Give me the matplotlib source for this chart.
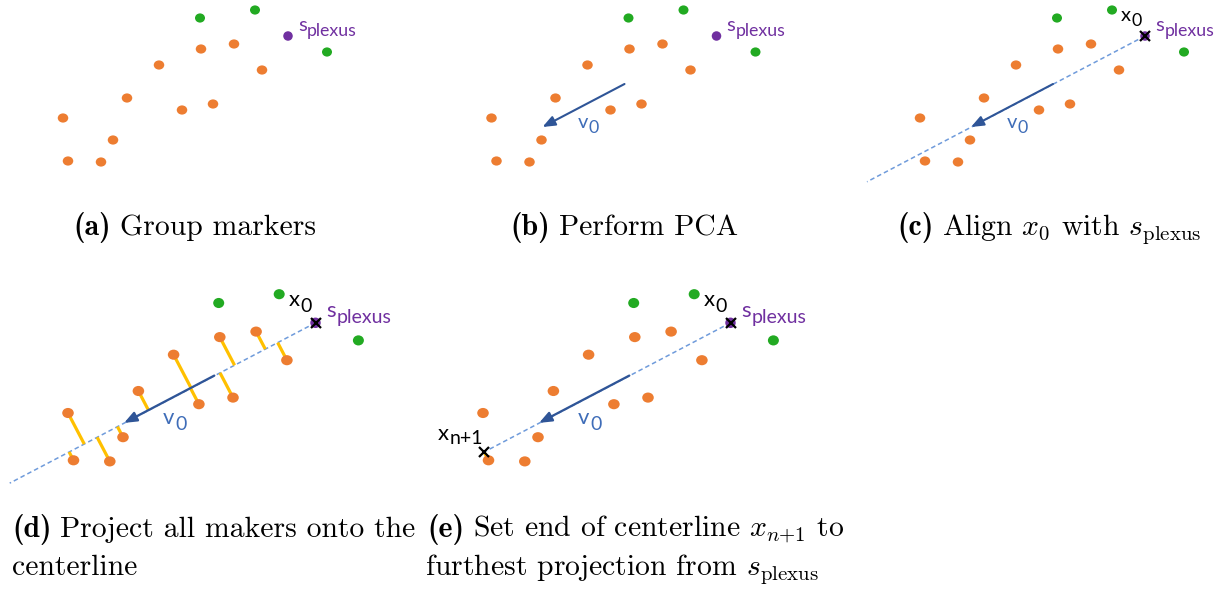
import numpy as np
import matplotlib
matplotlib.use("Agg")
import matplotlib.pyplot as plt
from matplotlib.patches import Ellipse, FancyArrowPatch

plt.rcParams['mathtext.fontset'] = 'cm'

# ---- data (panel-local pixel coordinates) ----
orange_x = [63, 68, 101, 113, 127, 159, 182, 201, 213, 234, 262]
orange_y = [118, 161, 162, 140, 98, 65, 110, 49, 104, 44, 70]
green_x = [200, 255, 327]
green_y = [18, 10, 52]
plexus_xy = (288, 36)
v0_start = (196, 84)
v0_end = (114, 127)
centerline_end_x = 10

caption_tags = ["(a)", "(b)", "(c)", "(d)", "(e)"]
captions = [
    ["Group markers"],
    ["Perform PCA"],
    [r"Align $x_0$ with $s_{\mathrm{plexus}}$"],
    ["Project all makers onto the", "centerline"],
    [r"Set end of centerline $x_{n{+}1}$ to",
     r"furthest projection from $s_{\mathrm{plexus}}$"],
]

# ---- layout / style ----
W, H = 1220, 590
ORANGE = '#ED7D31'
GREEN = '#22AA22'
PURPLE = '#7030A0'
YELLOW = '#FFC000'
ARROW = '#2F5597'
DASH = '#6F9BDB'
VLAB = '#3F6DB8'
SANS = 'Lato'
CAP_SIZE = 21.4

panels = {  # offset x, offset y, scale
    'a': (0.0, 0.0, 1.0),
    'b': (428.5, 0.0, 1.0),
    'c': (857.0, 0.0, 1.0),
    'd': (-1.3, 283.2, 1.1),
    'e': (413.7, 283.2, 1.1),
}
caption_pos = {
    'a': [(73, 235)],
    'b': [(510, 235)],
    'c': [(897, 235)],
    'd': [(12, 537), (12, 575)],
    'e': [(427, 537), (425, 575)],
}

fig = plt.figure(figsize=(W / 100, H / 100), dpi=100)
ax = fig.add_axes([0, 0, 1, 1])
ax.set_xlim(0, W)
ax.set_ylim(H, 0)
ax.axis('off')
renderer = fig.canvas.get_renderer()

ox_arr = np.array(orange_x, float)
oy_arr = np.array(orange_y, float)
pl = np.array(plexus_xy, float)
vdir = np.array(v0_end, float) - np.array(v0_start, float)
u = vdir / np.linalg.norm(vdir)
t_end = (pl[0] - centerline_end_x) / -u[0]
proj_t = (ox_arr - pl[0]) * u[0] + (oy_arr - pl[1]) * u[1]


def T(p, key):
    ox, oy, s = panels[key]
    return ox + s * p[0], oy + s * p[1]


def sublabel(x, y, base, sub, color, size, dy):
    t = ax.text(x, y, base, fontsize=size, color=color, family=SANS,
                va='baseline', ha='left', zorder=10)
    w = t.get_window_extent(renderer).width
    ax.text(x + w + 0.5, y + dy, sub, fontsize=size * 0.88, color=color,
            family=SANS, va='baseline', ha='left', zorder=10)


for key in 'abcde':
    s = panels[key][2]
    # centerline (dashed)
    if key in 'cde':
        tt = proj_t.max() if key == 'e' else t_end
        p0 = T(pl, key)
        p1 = T(pl + tt * u, key)
        ax.plot([p0[0], p1[0]], [p0[1], p1[1]], color=DASH, lw=1.1,
                dashes=(3, 2), zorder=2)
    # projections
    if key in 'de':
        idx = range(len(orange_x)) if key == 'd' else [int(np.argmax(proj_t))]
        for i in idx:
            p = np.array([ox_arr[i], oy_arr[i]])
            q = pl + proj_t[i] * u
            a0, a1 = T(p, key), T(q, key)
            ax.plot([a0[0], a1[0]], [a0[1], a1[1]], color=YELLOW, lw=2.3,
                    solid_capstyle='butt', zorder=3)
    # markers
    for x, y in zip(orange_x, orange_y):
        ax.add_patch(Ellipse(T((x, y), key), 10.5 * s, 9.2 * s,
                             color=ORANGE, zorder=5, lw=0))
    for x, y in zip(green_x, green_y):
        ax.add_patch(Ellipse(T((x, y), key), 10 * s, 9.2 * s,
                             color=GREEN, zorder=5, lw=0))
    ax.add_patch(Ellipse(T(pl, key), 9.5 * s, 9.5 * s, color=PURPLE,
                         zorder=5, lw=0))
    # v0 arrow
    if key != 'a':
        arr = FancyArrowPatch(T(v0_start, key), T(v0_end, key),
                              arrowstyle='-|>,head_length=0.75,head_width=0.3',
                              mutation_scale=10, color=ARROW, lw=1.5 * s,
                              shrinkA=0, shrinkB=0, zorder=6)
        ax.add_patch(arr)
        lx, ly = T((149.5, 128), key)
        sublabel(lx, ly, 'v', '0', VLAB, 14.5 * s, 5 * s)
    # x0 marker
    if key in 'cde':
        px, py = T(pl, key)
        ax.plot([px], [py], marker='x', ms=6.5 * s, mew=1.6, color='black',
                zorder=7)
        lx, ly = T((pl[0] - 24, pl[1] - 15), key)
        sublabel(lx, ly, 'x', '0', 'black', 14.5 * s, 5 * s)
    if key == 'e':
        q = pl + proj_t.max() * u
        px, py = T(q, key)
        ax.plot([px], [py], marker='x', ms=6.5 * s, mew=1.6, color='black',
                zorder=7)
        lx, ly = T((q[0] - 42, q[1] - 11), key)
        sublabel(lx, ly, 'x', 'n+1', 'black', 14.5 * s, 4 * s)
    # s_plexus label
    lx, ly = T((pl[0] + 10, pl[1] - 5), key)
    sublabel(lx, ly, 's', 'plexus', PURPLE, 14.5 * s, 5 * s)

# captions
for key, tag, lines in zip('abcde', caption_tags, captions):
    for j, (line, (x, y)) in enumerate(zip(lines, caption_pos[key])):
        if j == 0:
            tb = ax.text(x, y, tag, fontsize=CAP_SIZE, family='cmb10',
                         va='baseline', ha='left', color='black')
            x = x + tb.get_window_extent(renderer).width + 9
        ax.text(x, y, line, fontsize=CAP_SIZE, family='cmr10', va='baseline',
                ha='left', color='black')

fig.savefig('out.png', dpi=100)
